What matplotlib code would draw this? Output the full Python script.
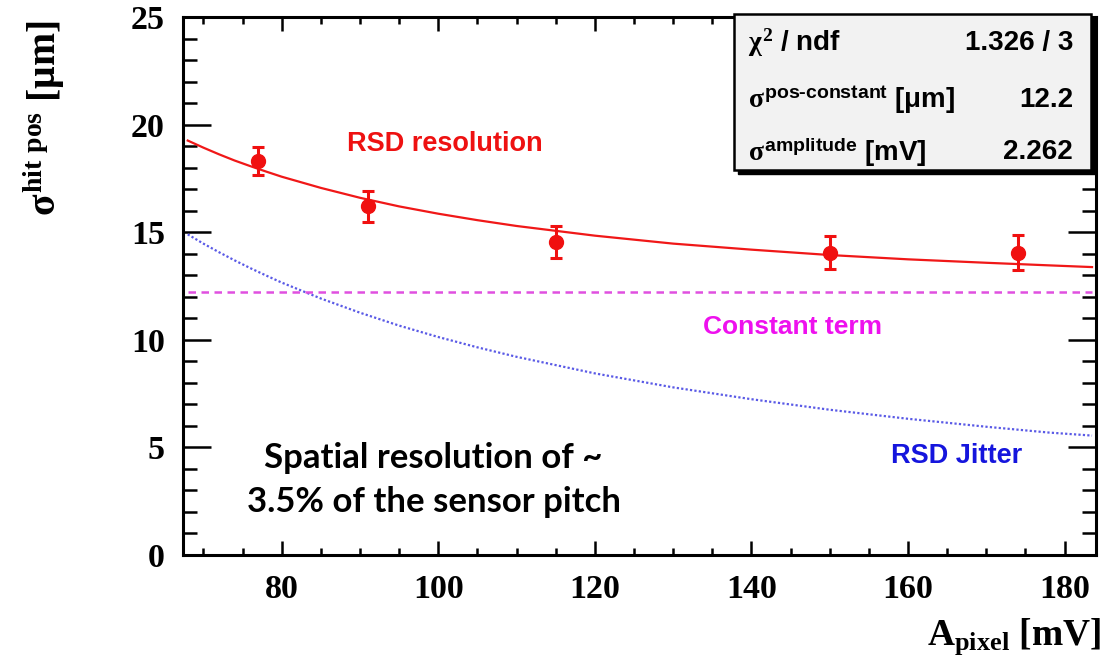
import matplotlib
matplotlib.use('Agg')
import matplotlib.pyplot as plt
from matplotlib.ticker import MultipleLocator
from matplotlib.patches import Rectangle

# ВХОДНЫЕ ДАННЫЕ
A_pix = [77, 91, 115, 150, 174]              # амплитуда, мВ
sigma_pos = [18.3, 16.2, 14.55, 14.05, 14.05]  # разрешение, мкм
sigma_err = [0.65, 0.72, 0.75, 0.77, 0.82]

# кривые фита
curve_x = [68, 70, 72, 74, 76, 78, 80, 85, 90, 95, 100, 105, 110, 120, 130, 140, 150, 160, 170, 178, 183.5]
fit_total = [19.26, 18.93, 18.62, 18.33, 18.07, 17.82, 17.58, 17.06, 16.60, 16.20, 15.86,
             15.56, 15.29, 14.84, 14.47, 14.19, 13.94, 13.74, 13.58, 13.46, 13.38]
fit_jitter = [14.90, 14.47, 14.07, 13.69, 13.33, 12.99, 12.66, 11.92, 11.26, 10.66, 10.13,
              9.65, 9.21, 8.44, 7.79, 7.24, 6.75, 6.33, 5.96, 5.69, 5.55]
const_term = 12.2

stat_names = [r'$\chi^{2}$ / ndf',
              r'$\sigma^{\mathsf{pos}\text{-}\mathsf{constant}}$ [μm]',
              r'$\sigma^{\mathsf{amplitude}}$ [mV]']
stat_values = ['1.326 / 3', '12.2', '2.262']

# НАСТРОЙКИ ШРИФТОВ
plt.rcParams['font.family'] = ['Liberation Serif', 'DejaVu Serif']
plt.rcParams['font.weight'] = 'bold'
plt.rcParams['mathtext.fontset'] = 'custom'
plt.rcParams['mathtext.rm'] = 'Liberation Serif:bold'
plt.rcParams['mathtext.it'] = 'Liberation Serif:bold'
plt.rcParams['mathtext.bf'] = 'Liberation Serif:bold'
plt.rcParams['mathtext.sf'] = 'Liberation Sans:bold'

fig = plt.figure(figsize=(11.14, 6.65), dpi=100)
ax = fig.add_axes([0.1643, 0.1654, 0.8195, 0.809])

# КОНТЕЙНЕР ВИЗУАЛИЗАЦИИ
ax.plot(curve_x, fit_total, color='#f01818', lw=1.6, zorder=3)
ax.plot(curve_x, fit_jitter, color='#5a5ae6', lw=1.6, ls=(0, (1, 1)), zorder=2)
ax.plot([curve_x[0], curve_x[-1]], [const_term, const_term], color='#e050e0', lw=1.8,
        ls=(0, (3, 2.2)), zorder=2)
ax.errorbar(A_pix, sigma_pos, yerr=sigma_err, fmt='o', color='#f01010', ms=10,
            elinewidth=2.2, capsize=4, capthick=2.2, zorder=4)

# подписи кривых
ax.text(100.8, 19.1, 'RSD resolution', color='#ee1111', fontsize=19.5,
        family='Liberation Sans', weight='bold', ha='center', va='center')
ax.text(145.3, 10.6, 'Constant term', color='#ee11ee', fontsize=19,
        family='Liberation Sans', weight='bold', ha='center', va='center')
ax.text(166.2, 4.6, 'RSD Jitter', color='#1515dd', fontsize=19.5,
        family='Liberation Sans', weight='bold', ha='center', va='center')
ax.text(99.4, 3.5, 'Spatial resolution of ~\n3.5% of the sensor pitch', color='black',
        fontsize=25, family='Lato', weight='bold', ha='center', va='center',
        linespacing=1.45)

# оси
ax.set_xlim(67.4, 184)
ax.set_ylim(0, 25)
ax.xaxis.set_major_locator(MultipleLocator(20))
ax.xaxis.set_minor_locator(MultipleLocator(5))
ax.yaxis.set_major_locator(MultipleLocator(5))
ax.yaxis.set_minor_locator(MultipleLocator(1))
ax.tick_params(axis='both', which='both', direction='in', top=True, right=True, width=1.8,
               labelsize=24.5)
ax.tick_params(axis='x', which='major', length=10, pad=14)
ax.tick_params(axis='x', which='minor', length=5)
ax.tick_params(axis='y', which='major', length=20, pad=13)
ax.tick_params(axis='y', which='minor', length=10)
ax.xaxis.set_major_formatter(plt.FuncFormatter(lambda v, p: '%d' % v))
for s in ax.spines.values():
    s.set_linewidth(2.2)

fig.text(0.0395, 0.8226, r'$\sigma^{\mathrm{hit\ pos}}$ [μm]', rotation=90, fontsize=28.5,
         ha='center', va='center')
fig.text(0.988, 0.043, r'$\mathrm{A}_{\mathrm{pixel}}$ [mV]', fontsize=27, ha='right',
         va='center')

# блок статистики
ax.add_patch(Rectangle((0.6079, 0.7082), 0.3910, 0.2898, transform=ax.transAxes,
                       facecolor='black', edgecolor='black', clip_on=False, zorder=5))
ax.add_patch(Rectangle((0.6035, 0.7156), 0.3910, 0.2898, transform=ax.transAxes,
                       facecolor='#f2f2f2', edgecolor='black', lw=1.8, clip_on=False, zorder=6))
rows_y = [0.9517, 0.8457, 0.749]
for name, val, yy in zip(stat_names, stat_values, rows_y):
    ax.text(0.619, yy, name, transform=ax.transAxes, fontsize=20, family='Liberation Sans',
            weight='bold', ha='left', va='center', zorder=7)
    ax.text(0.975, yy, val, transform=ax.transAxes, fontsize=20, family='Liberation Sans',
            weight='bold', ha='right', va='center', zorder=7)

plt.savefig('out.png', dpi=100)
